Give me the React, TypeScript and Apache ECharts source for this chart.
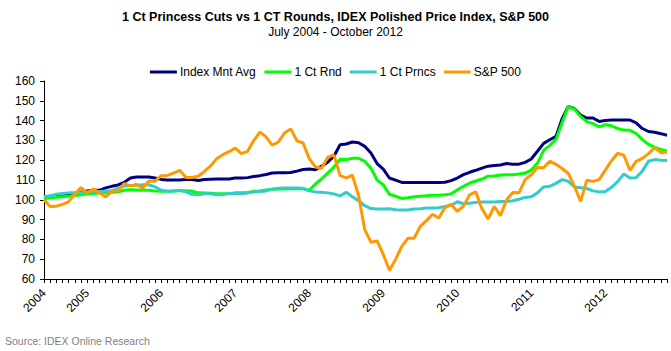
import React, { useEffect, useRef } from "react";
import * as echarts from "echarts";

const months = [
  "2004-06", "2004-07", "2004-08", "2004-09", "2004-10", "2004-11", "2004-12",
  "2005-01", "2005-02", "2005-03", "2005-04", "2005-05", "2005-06", "2005-07", "2005-08", "2005-09", "2005-10", "2005-11", "2005-12",
  "2006-01", "2006-02", "2006-03", "2006-04", "2006-05", "2006-06", "2006-07", "2006-08", "2006-09", "2006-10", "2006-11", "2006-12",
  "2007-01", "2007-02", "2007-03", "2007-04", "2007-05", "2007-06", "2007-07", "2007-08", "2007-09", "2007-10", "2007-11", "2007-12",
  "2008-01", "2008-02", "2008-03", "2008-04", "2008-05", "2008-06", "2008-07", "2008-08", "2008-09", "2008-10", "2008-11", "2008-12",
  "2009-01", "2009-02", "2009-03", "2009-04", "2009-05", "2009-06", "2009-07", "2009-08", "2009-09", "2009-10", "2009-11", "2009-12",
  "2010-01", "2010-02", "2010-03", "2010-04", "2010-05", "2010-06", "2010-07", "2010-08", "2010-09", "2010-10", "2010-11", "2010-12",
  "2011-01", "2011-02", "2011-03", "2011-04", "2011-05", "2011-06", "2011-07", "2011-08", "2011-09", "2011-10", "2011-11", "2011-12",
  "2012-01", "2012-02", "2012-03", "2012-04", "2012-05", "2012-06", "2012-07", "2012-08", "2012-09", "2012-10", "2012-11",
];

const indexMntAvg = [
  101.5, 101.8, 102.3, 102.6, 102.6, 102.8, 103.8, 104.5, 104.8, 104.8,
  106.0, 106.8, 107.5, 108.8, 111.0, 111.5, 111.5, 111.5, 111.0, 110.3,
  110.0, 110.0, 110.0, 110.3, 110.3, 109.8, 110.3, 110.4, 110.5, 110.5,
  110.5, 111.0, 111.0, 111.2, 111.8, 112.2, 112.8, 113.5, 113.7, 113.7,
  113.8, 114.5, 115.3, 115.6, 115.2, 117.0, 119.0, 122.0, 127.8, 128.2,
  129.2, 128.8, 127.0, 123.6, 118.3, 115.5, 111.0, 109.9, 108.8, 108.8,
  108.8, 108.8, 108.8, 108.8, 108.8, 108.9, 109.7, 111.0, 112.7, 113.9,
  114.9, 116.0, 117.0, 117.3, 117.6, 118.3, 118.0, 118.0, 118.9, 120.6,
  124.5, 128.5, 130.3, 132.0, 141.0, 147.2, 146.0, 142.8, 141.3, 141.3,
  139.6, 140.0, 140.3, 140.3, 140.3, 140.3, 138.8, 136.0, 134.5, 134.1,
  133.4, 132.6,
];

const ctRnd = [
  100.5, 101.0, 101.3, 101.6, 101.8, 102.2, 102.5, 103.0, 103.2, 103.4,
  103.6, 103.8, 104.0, 104.8, 105.1, 105.0, 104.8, 104.8, 104.5, 104.3,
  104.3, 104.5, 104.6, 104.6, 104.4, 103.5, 103.4, 103.3, 103.1, 103.0,
  103.2, 103.5, 103.6, 103.6, 104.3, 104.5, 105.0, 105.3, 105.5, 105.5,
  105.6, 105.6, 105.6, 104.8, 108.0, 110.5, 113.5, 116.5, 120.5, 120.3,
  121.0, 121.0, 119.4, 116.0, 110.0, 107.5, 102.8, 101.8, 100.7, 101.0,
  101.5, 101.8, 102.0, 102.3, 102.3, 102.5, 103.0, 105.0, 106.8, 108.5,
  109.5, 110.5, 111.9, 112.0, 112.5, 112.7, 112.7, 113.0, 113.5, 115.0,
  118.5, 125.0, 127.5, 130.5, 139.0, 147.2, 145.7, 142.0, 139.5, 138.5,
  136.8, 138.0, 137.4, 136.0, 135.2, 135.1, 133.5, 130.4, 128.0, 126.5,
  125.5, 124.5,
];

const ctPrncs = [
  101.5, 102.0, 102.8, 103.2, 103.5, 103.6, 103.6, 103.8, 104.0, 104.2,
  104.5, 104.6, 105.8, 107.0, 107.2, 107.4, 107.6, 107.6, 106.5, 104.8,
  104.3, 104.5, 104.8, 104.0, 102.8, 102.6, 103.0, 103.0, 102.6, 102.6,
  103.2, 103.2, 103.1, 103.6, 104.0, 104.2, 104.5, 105.3, 105.8, 106.0,
  106.0, 106.0, 105.8, 104.5, 104.0, 103.8, 103.5, 103.0, 102.0, 103.8,
  101.5, 99.5, 97.0, 95.6, 95.3, 95.3, 95.5, 95.0, 94.9, 94.9,
  95.3, 95.5, 95.8, 95.9, 96.0, 96.6, 97.2, 99.0, 98.0, 98.3,
  98.7, 98.9, 98.9, 98.9, 99.1, 99.2, 99.5, 100.3, 101.2, 101.5,
  103.5, 106.5, 106.8, 108.3, 110.2, 109.3, 106.5, 106.1, 105.7, 104.5,
  104.0, 104.2, 106.3, 109.2, 113.0, 111.0, 111.2, 114.5, 119.5, 120.3,
  120.0, 119.9,
];

const sp500 = [
  100.0, 96.6, 96.8, 97.7, 99.1, 102.9, 106.2, 103.5, 105.5, 103.5,
  101.4, 104.4, 104.4, 108.2, 107.0, 107.7, 105.8, 109.5, 109.4, 112.2,
  112.3, 113.5, 114.9, 111.3, 111.3, 111.9, 114.3, 117.1, 120.8, 122.8,
  124.3, 126.1, 123.3, 124.5, 129.9, 134.2, 131.8, 127.6, 129.2, 133.8,
  135.8, 129.8, 128.7, 120.8, 116.6, 115.9, 121.5, 122.7, 112.2, 111.1,
  112.4, 102.2, 84.9, 78.6, 79.2, 72.4, 64.4, 69.9, 76.5, 80.6,
  80.6, 86.6, 89.5, 92.7, 90.8, 96.0, 97.7, 94.1, 96.8, 102.5,
  104.0, 95.5, 90.3, 96.6, 92.0, 100.0, 103.7, 103.5, 110.2, 112.7,
  116.3, 116.2, 119.5, 117.9, 115.8, 113.3, 106.8, 99.2, 109.9, 109.3,
  110.2, 115.0, 119.7, 123.5, 122.5, 114.9, 119.4, 120.9, 123.3, 126.3,
  123.8, 124.1,
];

const seriesNames = ["Index Mnt Avg", "1 Ct Rnd", "1 Ct Prncs", "S&P 500"];
const seriesColors = ["#000080", "#00FF00", "#33CCCC", "#FF9900"];
const seriesData = [indexMntAvg, ctRnd, ctPrncs, sp500];

const FONT = "'Liberation Sans', Arial, sans-serif";

export default function App() {
  const ref = useRef<HTMLDivElement>(null);
  useEffect(() => {
    if (!ref.current) return;
    const chart = echarts.init(ref.current, null, { renderer: "svg" });
    chart.setOption({
      animation: false,
      backgroundColor: "#ffffff",
      textStyle: { fontFamily: FONT },
      title: [
        {
          text: "1 Ct Princess Cuts vs 1 CT Rounds, IDEX Polished Price Index, S&P 500",
          left: "center",
          top: 10,
          padding: 0,
          textStyle: { fontSize: 12.5, fontWeight: "bold", color: "#000", fontFamily: FONT },
        },
        {
          text: "July 2004 - October 2012",
          left: "center",
          top: 26,
          padding: 0,
          textStyle: { fontSize: 12, fontWeight: "normal", color: "#000", fontFamily: FONT },
        },
        {
          text: "Source: IDEX Online Research",
          left: 5,
          top: 335,
          padding: 0,
          textStyle: { fontSize: 10.5, fontWeight: "normal", color: "#808080", fontFamily: FONT },
        },
      ],
      legend: {
        top: 66,
        left: "center",
        padding: 0,
        icon: "rect",
        itemWidth: 27,
        itemHeight: 3,
        itemGap: 8,
        data: seriesNames,
        textStyle: { fontSize: 12, color: "#000", fontFamily: FONT, padding: [0, 0, 0, -2] },
      },
      grid: { left: 44, right: 4, top: 81, bottom: 72, outerBoundsMode: "none" },
      xAxis: {
        type: "category",
        boundaryGap: false,
        data: months,
        axisLine: { show: true, lineStyle: { color: "#000", width: 1 } },
        axisTick: { show: true, interval: 0, length: 4, lineStyle: { color: "#000" } },
        axisLabel: {
          interval: (i: number, v: string) => i === 0 || v.endsWith("-01"),
          formatter: (v: string) => v.slice(0, 4),
          rotate: 45,
          fontSize: 12,
          color: "#000",
          margin: 12,
          fontFamily: FONT,
        },
        splitLine: { show: false },
      },
      yAxis: {
        type: "value",
        min: 60,
        max: 160,
        interval: 10,
        axisLine: { show: true, lineStyle: { color: "#000", width: 1 } },
        axisTick: { show: true, length: 4, lineStyle: { color: "#000" } },
        axisLabel: { fontSize: 12, color: "#000", margin: 9, fontFamily: FONT },
        splitLine: { show: false },
      },
      series: seriesNames.map((name, k) => ({
        name,
        type: "line",
        data: seriesData[k],
        showSymbol: false,
        symbol: "none",
        color: seriesColors[k],
        lineStyle: { color: seriesColors[k], width: 3 },
      })),
    });
    return () => chart.dispose();
  }, []);
  return (
    <div
      ref={ref}
      style={{ position: "fixed", left: 0, top: 0, width: 671, height: 351, background: "#fff" }}
    />
  );
}
